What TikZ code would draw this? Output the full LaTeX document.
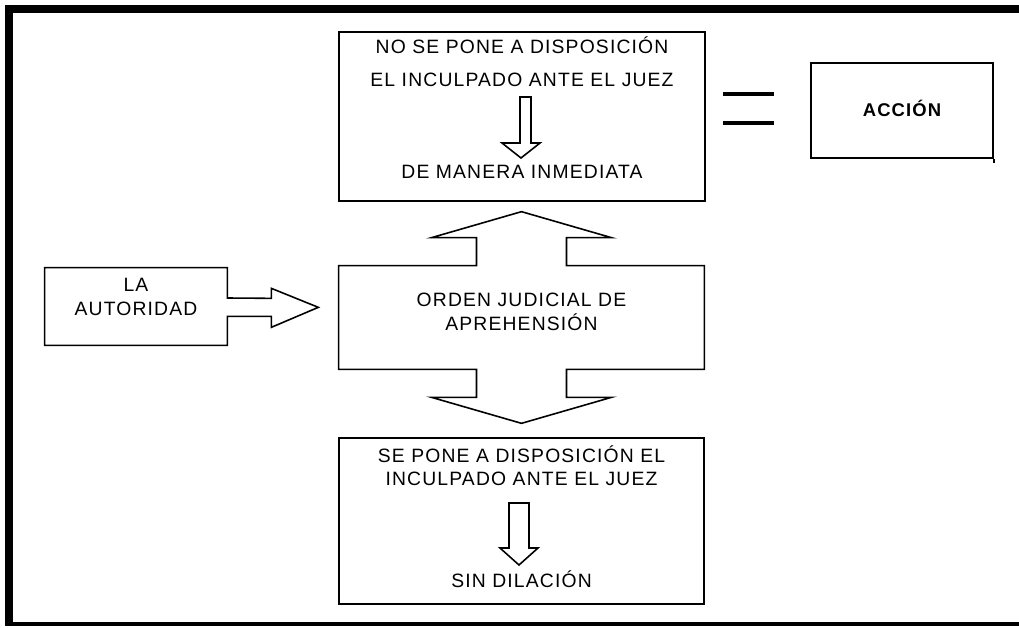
\documentclass[tikz,border=0pt]{standalone}
\usepackage{fontspec}
\setmainfont{Liberation Sans}[LetterSpace=6]
\usepackage{tikz}
\usetikzlibrary{positioning, calc}
\tikzstyle{box} = [rectangle, draw=black, line width=0.9pt, inner sep=0pt]
\tikzstyle{hollow} = [rectangle, inner sep=0pt]
\tikzstyle{txt} = [inner sep=0pt, anchor=base, font=\fontsize{11}{13}\selectfont]
\tikzstyle{outline} = [draw=black, line width=0.9pt, line join=miter]
\tikzstyle{bar} = [fill=black]
\tikzstyle{equal} = [line width=2pt]

\begin{document}
\begin{tikzpicture}[x=0.02cm, y=-0.02cm]
	\useasboundingbox (0,0) rectangle (1019,628);

	% Frame
	\fill[bar] (5,5) rectangle (1019,13);
	\fill[bar] (5,5) rectangle (13,626);
	\fill[bar] (5,622) rectangle (1019,626);

	% Boxes
	\node(noponer)   [box, minimum width=7.32cm, minimum height=3.38cm] at (522,116.5) {};
	\node(accion)    [box, minimum width=3.64cm, minimum height=1.9cm] at (902,110.5) {};
	\node(autoridad) [hollow, minimum width=3.64cm, minimum height=1.54cm] at (136,306.5) {};
	\node(orden)     [hollow, minimum width=7.3cm, minimum height=2.06cm] at (521.5,317.5) {};
	\node(siponer)   [box, minimum width=7.3cm, minimum height=3.32cm] at (521.5,521) {};

	% Texts
	\node(n1) [txt] at (522,54) {NO SE PONE A DISPOSICIÓN};
	\node(n2) [txt] at (522,87) {EL INCULPADO ANTE EL JUEZ};
	\node(n3) [txt] at (522,179) {DE MANERA INMEDIATA};
	\node(a1) [txt, font=\fontsize{10.5}{12}\selectfont\bfseries] at (902,117) {ACCIÓN};
	\node(t1) [txt] at (136,292) {LA};
	\node(t2) [txt] at (136,315.5) {AUTORIDAD};
	\node(o1) [txt] at (521.5,306.5) {ORDEN JUDICIAL DE};
	\node(o2) [txt] at (521.5,330.5) {APREHENSIÓN};
	\node(s1) [txt] at (521.5,462.5) {SE PONE A DISPOSICIÓN EL};
	\node(s2) [txt] at (521.5,486) {INCULPADO ANTE EL JUEZ};
	\node(s3) [txt] at (521.5,588) {SIN DILACIÓN};

	% Equal sign
	\draw[equal] (723,94) -- (774,94);
	\draw[equal] (723,123) -- (774,123);
	\draw[line width=0.9pt] (accion.south east) -- ++(0,4);

	% Block arrows
	\draw[outline] ($(autoridad.east)+(0,-8.5)$) -- (autoridad.north east) -- (autoridad.north west)
		-- (autoridad.south west) -- (autoridad.south east) -- ++(0,-29) -- ++(44,0) -- ++(0,11)
		-- ++(47,-20) -- ++(-47,-19) -- ++(0,10) -- cycle;
	\draw[outline] ($(orden.north)+(-45,0)$) -- ++(0,-28) -- ++(-45,0) -- ++(90,-26) -- ++(90,26)
		-- ++(-45,0) -- ++(0,28) -- (orden.north east) -- (orden.south east)
		-- ($(orden.south)+(45,0)$) -- ++(0,28) -- ++(45,0) -- ++(-90,26) -- ++(-90,-26)
		-- ++(45,0) -- ++(0,-28) -- (orden.south west) -- (orden.north west) -- cycle;
	\draw[outline] ($(n2.base)+(-2,10)$) -- ++(0,46) -- ++(-18,0) -- ++(19,15) -- ++(19,-15)
		-- ++(-9,0) -- ++(0,-46) -- cycle;
	\draw[outline] ($(s2.base)+(-12.5,17)$) -- ++(0,45) -- ++(-9,0) -- ++(19,17) -- ++(19,-17)
		-- ++(-9,0) -- ++(0,-45) -- cycle;
\end{tikzpicture}
\end{document}
